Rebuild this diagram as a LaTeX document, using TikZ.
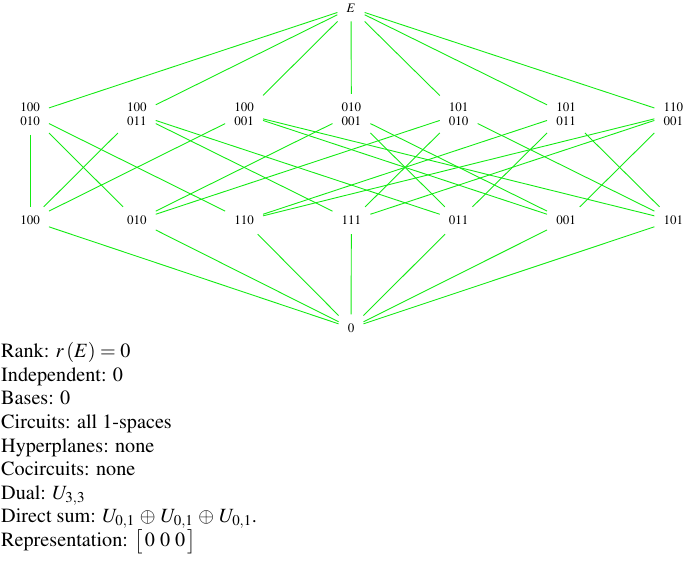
\documentclass[tikz,border=0pt]{standalone}
\usepackage[T1]{fontenc}
\usepackage{mathptmx}
\begin{document}
\begin{tikzpicture}[x=1pt,y=-1pt,
  v/.style={inner sep=9pt, font=\fontsize{13}{13.5}\selectfont, align=center},
  e/.style={draw={rgb,255:red,20;green,235;blue,20}, line width=0.9pt},
  info/.style={anchor=base west, inner sep=0pt, font=\fontsize{20.2}{23.7}\selectfont}]
\useasboundingbox (0,0) rectangle (685,562);
% top
\node[v] (E) at (351,8) {$E$};
% planes
\node[v] (p1) at (30,114.2) {100\\010};
\node[v] (p2) at (136.8,114.2) {100\\011};
\node[v] (p3) at (244.1,114.2) {100\\001};
\node[v] (p4) at (351.4,114.2) {010\\001};
\node[v] (p5) at (458.7,114.2) {101\\010};
\node[v] (p6) at (566,114.2) {101\\011};
\node[v] (p7) at (673.3,114.2) {110\\001};
% lines
\node[v] (l100) at (30,220.5) {100};
\node[v] (l010) at (136.8,220.5) {010};
\node[v] (l110) at (244.1,220.5) {110};
\node[v] (l111) at (351.4,220.5) {111};
\node[v] (l011) at (458.7,220.5) {011};
\node[v] (l001) at (566,220.5) {001};
\node[v] (l101) at (673.3,220.5) {101};
% bottom
\node[v] (z) at (351,328) {0};
% edges
\foreach \p in {p1,p2,p3,p4,p5,p6,p7} \draw[e] (E) -- (\p);
\foreach \a/\b in {p1/l100,p1/l010,p1/l110,
                   p2/l100,p2/l011,p2/l111,
                   p3/l100,p3/l001,p3/l101,
                   p4/l010,p4/l001,p4/l011,
                   p5/l101,p5/l010,p5/l111,
                   p6/l101,p6/l011,p6/l110,
                   p7/l110,p7/l001,p7/l111}
  \draw[e] (\a) -- (\b);
\foreach \l in {l100,l010,l110,l111,l011,l001,l101} \draw[e] (\l) -- (z);
% text
\node[info] (t1) at (1,357.7) {Rank: $r\,(E)=0$};
\node[info] (t2) at (1,381.3) {Independent: 0};
\node[info] (t3) at (1,404.9) {Bases: 0};
\node[info] (t4) at (1,428.5) {Circuits: all 1-spaces};
\node[info] (t5) at (1,452.1) {Hyperplanes: none};
\node[info] (t6) at (1,475.7) {Cocircuits: none};
\node[info] (t7) at (1,499.3) {Dual: $U_{3,3}$};
\node[info] (t8) at (1,522.9) {Direct sum: $U_{0,1}\,\oplus\,U_{0,1}\,\oplus\,U_{0,1}$.};
\node[info] (t9) at (1,546.5) {Representation: $\bigl[\,0\ 0\ 0\,\bigr]$};
\end{tikzpicture}
\end{document}
